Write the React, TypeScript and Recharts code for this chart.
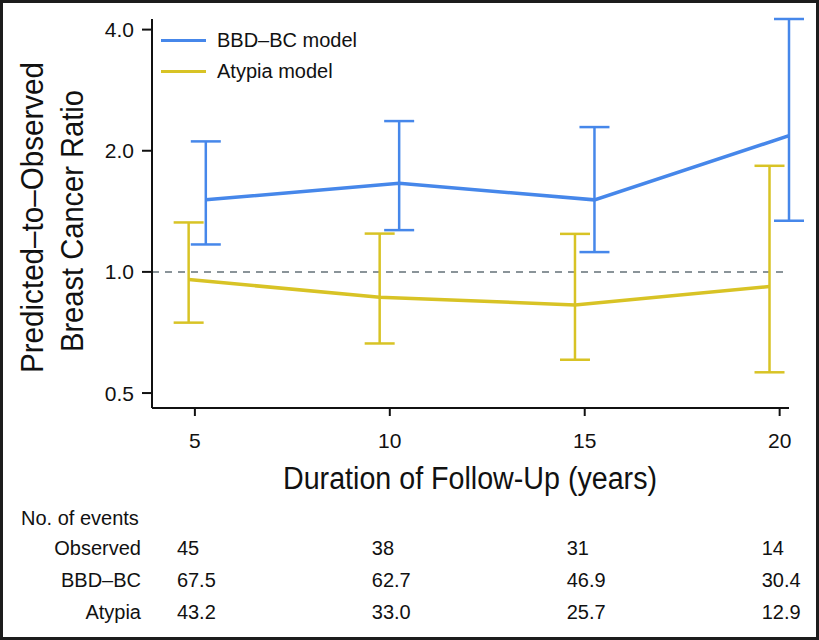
import { LineChart, Line, XAxis, YAxis, ErrorBar, ReferenceLine, Label } from 'recharts';

const followUp = [5, 10, 15, 20];

// x offsets so the two series don't overlap
const bbdX = [5.28, 10.24, 15.25, 20.24];
const bbdRatio = [1.51, 1.66, 1.51, 2.18];
const bbdLow = [1.17, 1.27, 1.12, 1.34];
const bbdHigh = [2.11, 2.37, 2.29, 4.25];

const atypiaX = [4.84, 9.74, 14.75, 19.74];
const atypiaRatio = [0.957, 0.865, 0.828, 0.92];
const atypiaLow = [0.748, 0.664, 0.605, 0.563];
const atypiaHigh = [1.327, 1.245, 1.243, 1.835];

const yTicks = [0.5, 1, 2, 4];

const observedEvents = ['45', '38', '31', '14'];
const bbdEvents = ['67.5', '62.7', '46.9', '30.4'];
const atypiaEvents = ['43.2', '33.0', '25.7', '12.9'];

const BLUE = '#4687EA';
const YELLOW = '#D8C325';
const FONT = '"Liberation Sans", Arial, sans-serif';

const X_MIN = 3.9;
const X_MAX = 20.24;
const PLOT_LEFT = 152;
const PLOT_RIGHT = 789;

const toRows = (xs: number[], ys: number[], lo: number[], hi: number[]) =>
  xs.map((x, i) => ({ x, y: ys[i], err: [ys[i] - lo[i], hi[i] - ys[i]] }));

const bbdData = toRows(bbdX, bbdRatio, bbdLow, bbdHigh);
const atypiaData = toRows(atypiaX, atypiaRatio, atypiaLow, atypiaHigh);

const colLeft = (v: number) => PLOT_LEFT + ((v - X_MIN) / (X_MAX - X_MIN)) * (PLOT_RIGHT - PLOT_LEFT) - 18;

const tableRows = [
  { label: 'Observed', values: observedEvents, y: 548 },
  { label: 'BBD\u2013BC', values: bbdEvents, y: 580 },
  { label: 'Atypia', values: atypiaEvents, y: 612 },
];

const textStyle = { position: 'absolute' as const, fontFamily: FONT, fontSize: 20, color: '#111', whiteSpace: 'nowrap' as const, lineHeight: '24px' };

export default function App() {
  return (
    <div style={{ position: 'absolute', left: 0, top: 0, width: 819, height: 640, background: '#fff', overflow: 'hidden' }}>
      <LineChart width={819} height={640} margin={{ top: 19, right: 30, bottom: 202, left: 92 }}>
        <XAxis
          type="number"
          dataKey="x"
          domain={[X_MIN, X_MAX]}
          ticks={followUp}
          height={30}
          tickSize={8}
          tickMargin={17}
          stroke="#111"
          strokeWidth={2}
          tick={{ fill: '#111', fontSize: 21, fontFamily: FONT }}
          allowDataOverflow
        >
          <Label
            content={() => (
              <text
                x={283}
                y={489}
                fontFamily={FONT}
                fontSize={31}
                textLength={374}
                lengthAdjust="spacingAndGlyphs"
                fill="#111"
              >
                Duration of Follow-Up (years)
              </text>
            )}
          />
        </XAxis>
        <YAxis
          type="number"
          scale="log"
          domain={[0.459, 4.25]}
          ticks={yTicks}
          width={60}
          tickSize={10}
          tickMargin={8}
          stroke="#111"
          strokeWidth={2}
          tickFormatter={(v: number) => v.toFixed(1)}
          tick={{ fill: '#111', fontSize: 21, fontFamily: FONT }}
          allowDataOverflow
        >
          <Label
            content={() => (
              <g fontFamily={FONT} fontSize={31} fill="#111">
                <text transform="translate(43,373) rotate(-90)" textLength={311} lengthAdjust="spacingAndGlyphs">
                  Predicted–to–Observed
                </text>
                <text transform="translate(83,352) rotate(-90)" textLength={262} lengthAdjust="spacingAndGlyphs">
                  Breast Cancer Ratio
                </text>
              </g>
            )}
          />
        </YAxis>
        <ReferenceLine y={1} stroke="#8A9499" strokeWidth={2} strokeDasharray="7 6" />
        <Line
          data={bbdData}
          dataKey="y"
          stroke={BLUE}
          strokeWidth={3.5}
          dot={false}
          isAnimationActive={false}
        >
          <ErrorBar dataKey="err" direction="y" width={15} stroke={BLUE} strokeWidth={2.5} />
        </Line>
        <Line
          data={atypiaData}
          dataKey="y"
          stroke={YELLOW}
          strokeWidth={3.5}
          dot={false}
          isAnimationActive={false}
        >
          <ErrorBar dataKey="err" direction="y" width={15} stroke={YELLOW} strokeWidth={2.5} />
        </Line>
      </LineChart>

      {/* legend */}
      {[
        { name: 'BBD\u2013BC model', color: BLUE, y: 40 },
        { name: 'Atypia model', color: YELLOW, y: 71 },
      ].map((item) => (
        <div key={item.name}>
          <div style={{ position: 'absolute', left: 161, top: item.y - 1.5, width: 45, height: 3.5, background: item.color }} />
          <div style={{ ...textStyle, left: 217, top: item.y - 12 }}>{item.name}</div>
        </div>
      ))}

      {/* events table */}
      <div style={{ ...textStyle, left: 21, top: 506 }}>No. of events</div>
      {tableRows.map((row) => (
        <div key={row.label}>
          <div style={{ ...textStyle, right: 819 - 141, top: row.y - 12, textAlign: 'right' }}>{row.label}</div>
          {row.values.map((v, i) => (
            <div key={i} style={{ ...textStyle, left: colLeft(followUp[i]), top: row.y - 12 }}>
              {v}
            </div>
          ))}
        </div>
      ))}

      <div style={{ position: 'absolute', inset: 0, border: '3px solid #1c1c1c', pointerEvents: 'none' }} />
    </div>
  );
}
